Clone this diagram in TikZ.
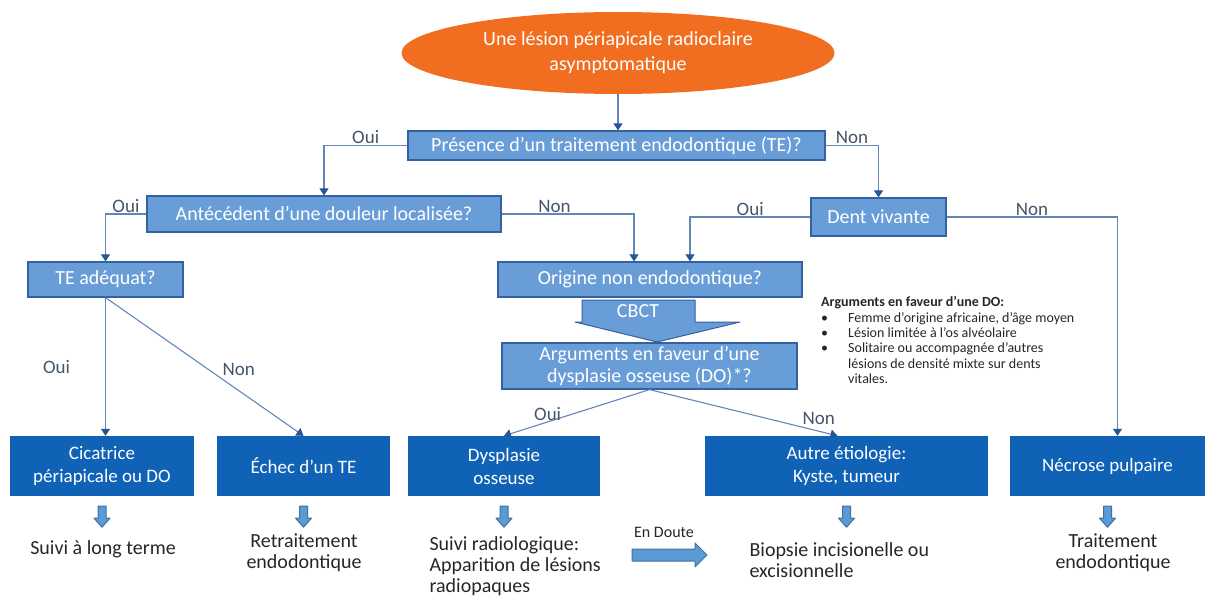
\documentclass[tikz,border=0pt]{standalone}
\usepackage{fontspec}
\setmainfont{Carlito}
\usetikzlibrary{shapes.geometric,arrows.meta,positioning}
\definecolor{orangeov}{RGB}{241,110,32}
\definecolor{lightbox}{RGB}{104,157,216}
\definecolor{lightedge}{RGB}{52,98,160}
\definecolor{darkbox}{RGB}{15,98,182}
\definecolor{lineblue}{RGB}{100,133,186}
\definecolor{tipblue}{RGB}{40,85,150}
\definecolor{labelgray}{RGB}{68,84,106}
\definecolor{blockfill}{RGB}{91,155,213}
\definecolor{blockedge}{RGB}{65,113,156}
\tikzset{
  qbox/.style={draw=lightedge, line width=1.2pt, fill=lightbox, text=white,
    font=\fontsize{20}{22}\selectfont, align=center, inner sep=0pt},
  rbox/.style={fill=darkbox, text=white, font=\fontsize{19}{23}\selectfont,
    align=center, inner sep=0pt, minimum height=60pt},
  link/.style={draw=lineblue, line width=1.1pt,
    -{Triangle[length=7pt,width=9pt,color=tipblue]}},
  lab/.style={text=labelgray, font=\fontsize{19}{21}\selectfont, inner sep=1pt},
  outtext/.style={text=black!85, font=\fontsize{20}{21}\selectfont, align=center},
  blockarr/.style={fill=blockfill, draw=blockedge, line width=1pt, line join=round}
}
\begin{document}
\begin{tikzpicture}[x=1pt,y=-1pt]
  \useasboundingbox (0,0) rectangle (1208,597);
  % questions
  \node[ellipse, fill=orangeov, text=white, minimum width=433pt, minimum height=82pt,
    font=\fontsize{20}{25}\selectfont, align=center] (start) at (618,53)
    {Une lésion périapicale radioclaire\\asymptomatique};
  \node[qbox, minimum width=417pt, minimum height=29pt] (te) at (616.5,145.5)
    {Présence d’un traitement endodontique (TE)?};
  \node[qbox, minimum width=354pt, minimum height=36pt] (ante) at (324,214)
    {Antécédent d’une douleur localisée?};
  \node[qbox, minimum width=135pt, minimum height=38pt] (dent) at (878.5,217)
    {Dent vivante};
  \node[qbox, minimum width=155pt, minimum height=35pt] (adeq) at (105.5,279.5)
    {TE adéquat?};
  \node[qbox, minimum width=304pt, minimum height=35pt] (orig) at (650,279.5)
    {Origine non endodontique?};
  \node[qbox, minimum width=295pt, minimum height=46pt] (args) at (649.5,366)
    {Arguments en faveur d’une\\dysplasie osseuse (DO)*?};
  % CBCT
  \draw[fill=lightbox, draw=lightedge, line width=1pt, line join=round]
    (582,300) -- (695,300) -- (695,322) -- (740,322) -- (657,342)
    -- (575,322) -- (582,322) -- cycle;
  \node[text=white, font=\fontsize{20}{22}\selectfont] (cbct) at (638,311) {CBCT};
  % results
  \node[rbox, minimum width=184pt] (cica) at (102,466) {Cicatrice\\périapicale ou DO};
  \node[rbox, minimum width=173pt] (echec) at (303.5,466) {Échec d’un TE};
  \node[rbox, minimum width=192pt] (dysp) at (504,466) {Dysplasie\\osseuse};
  \node[rbox, minimum width=283pt] (autre) at (846.5,466) {Autre étiologie:\\Kyste, tumeur};
  \node[rbox, minimum width=195pt] (necr) at (1107.5,466) {Nécrose pulpaire};
  % connectors
  \draw[link] (start.south) -- (start.south |- te.north);
  \draw[link] (te.west) -| node[lab,pos=.25,above]{Oui} (ante.north);
  \draw[link] (te.east) -| node[lab,pos=.25,above]{Non} (dent.north);
  \draw[link] (ante.west) -| node[lab,pos=.25,above]{Oui} (adeq.north);
  \draw[link] (ante.east) -| node[lab,pos=.2,above]{Non} ([xshift=-16pt]orig.north);
  \draw[link] (dent.west) -| node[lab,pos=.25,above]{Oui} ([xshift=40pt]orig.north);
  \draw[link] (dent.east) -| node[lab,pos=.25,above]{Non} ([xshift=10pt]necr.north);
  \draw[link] (adeq.south) -- node[lab,left=34pt]{Oui} (adeq.south |- cica.north);
  \draw[link] (adeq.south) -- node[lab,pos=.58,above right=1pt]{Non} (echec.north);
  \draw[link] (args.south) -- node[lab,pos=.7,above]{Oui} (dysp.north);
  \draw[link] (args.south) -- node[lab,pos=.9,above=5pt]{Non} ([xshift=-9pt]autre.north);
  % small arrows
  \foreach \b in {cica,echec,dysp,autre,necr}
    \draw[blockarr] ([shift={(-4,10)}]\b.south) -- ++(8,0) -- ++(0,12) -- ++(4,0)
      -- ++(-8,9) -- ++(-8,-9) -- ++(4,0) -- cycle;
  % outcomes
  \node[outtext] (suivi) at (103,549) {Suivi à long terme};
  \node[outtext] (retrait) at (304,553) {Retraitement\\endodontique};
  \node[outtext, align=left, anchor=west] (radio) at (426,566)
    {Suivi radiologique:\\Apparition de lésions\\radiopaques};
  \node[outtext, align=left, anchor=west] (biopsie) at (746,560)
    {Biopsie incisionelle ou\\excisionnelle};
  \node[outtext] (trait) at (1113,553) {Traitement\\endodontique};
  \node[text=black!85, font=\fontsize{16}{18}\selectfont] (doute) at (664,532) {En Doute};
  \draw[blockarr] (632,549) -- (695,549) -- (695,543) -- (707,555) -- (695,567)
    -- (695,561) -- (632,561) -- cycle;
  % DO arguments
  \node[anchor=north west, inner sep=0pt, text=black!85,
    font=\fontsize{14}{15.3}\selectfont] (dolist) at (821,296)
    {\begin{tabular}{@{}p{27pt}@{}l@{}}
      \multicolumn{2}{@{}l}{\textbf{Arguments en faveur d’une DO:}}\\
      •&Femme d’origine africaine, d’âge moyen\\
      •&Lésion limitée à l’os alvéolaire\\
      •&Solitaire ou accompagnée d’autres\\
       &lésions de densité mixte sur dents\\
       &vitales.
    \end{tabular}};
\end{tikzpicture}
\end{document}
